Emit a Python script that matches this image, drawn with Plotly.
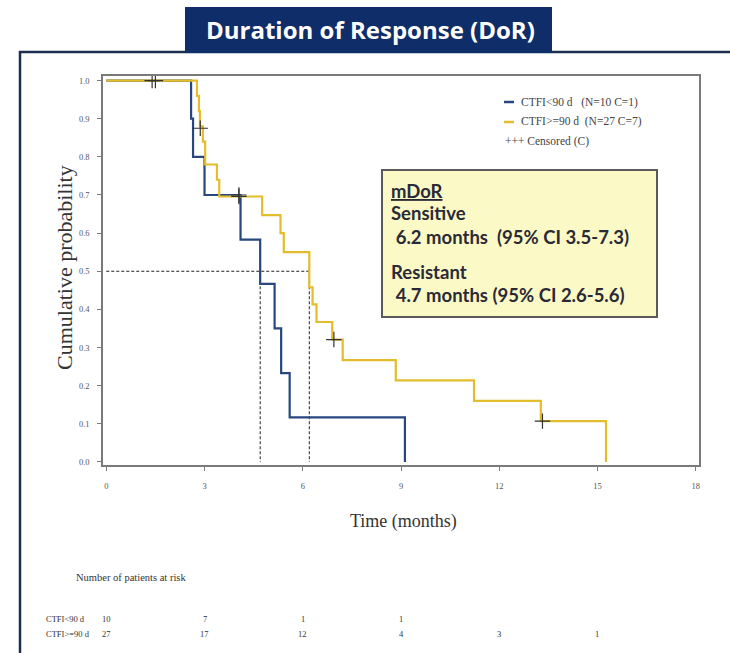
import plotly.graph_objects as go

# Kaplan-Meier step curves: step times (months) and cumulative probability after each step
ctfi_lt90_time = [0, 2.59, 2.65, 3.0, 4.1, 4.7, 5.14, 5.34, 5.6, 9.12]
ctfi_lt90_surv = [1.0, 0.9, 0.8, 0.7, 0.583, 0.467, 0.35, 0.233, 0.117, 0.0]
ctfi_lt90_cens_time = [4.05]
ctfi_lt90_cens_surv = [0.7]

ctfi_ge90_time = [0, 2.77, 2.83, 2.86, 2.95, 3.02, 3.38, 3.45, 4.76, 5.32, 5.42,
                  6.2, 6.3, 6.42, 6.9, 7.22, 8.84, 11.23, 13.27, 15.26]
ctfi_ge90_surv = [1.0, 0.96, 0.92, 0.88, 0.84, 0.78, 0.74, 0.696, 0.647, 0.6, 0.55,
                  0.458, 0.413, 0.367, 0.321, 0.267, 0.214, 0.16, 0.107, 0.0]
ctfi_ge90_cens_time = [1.4, 1.5, 2.87, 4.05, 6.95, 13.32]
ctfi_ge90_cens_surv = [1.0, 1.0, 0.875, 0.696, 0.321, 0.107]

# Number at risk
risk_times = [0, 3, 6, 9, 12, 15]
risk_lt90 = [10, 7, 1, 1, None, None]
risk_ge90 = [27, 17, 12, 4, 3, 1]

# Median duration of response
median_sensitive = 6.2
ci_sensitive = (3.5, 7.3)
median_resistant = 4.7
ci_resistant = (2.6, 5.6)

x_ticks = [0, 3, 6, 9, 12, 15, 18]
y_ticks = [i / 10 for i in range(11)]

BLUE = "#27477e"
GOLD = "#e3bd2b"
NAVY = "#0f2d69"
SERIF = "Liberation Serif"
SANS = "Lato"

W, H = 730, 653
L, R, T, B = 103, 31, 76, 188


def px(x):
    return (x - L) / (W - L - R)


def py(y):
    return (H - B - y) / (H - T - B)


def label(x, y, text, font, xanchor="center", **kw):
    return dict(xref="paper", yref="paper", x=px(x), y=py(y), text=text, showarrow=False,
                xanchor=xanchor, yanchor="middle", font=font, **kw)


fig = go.Figure()

# median reference lines
fig.add_trace(go.Scatter(x=[0, median_sensitive], y=[0.5, 0.5], mode="lines",
                         line=dict(color="#222", width=1, dash="3px,2px"), hoverinfo="skip"))
for m in (median_resistant, median_sensitive):
    fig.add_trace(go.Scatter(x=[m, m], y=[0.5, 0], mode="lines",
                             line=dict(color="#222", width=1, dash="3px,2px"), hoverinfo="skip"))

fig.add_trace(go.Scatter(x=ctfi_lt90_time, y=ctfi_lt90_surv, mode="lines", line_shape="hv",
                         line=dict(color=BLUE, width=2.2), name="CTFI<90 d"))
fig.add_trace(go.Scatter(x=ctfi_ge90_time, y=ctfi_ge90_surv, mode="lines", line_shape="hv",
                         line=dict(color=GOLD, width=2.2), name="CTFI>=90 d"))

cens_marker = dict(symbol="cross-thin", size=11, line=dict(color="#333", width=1.2))
fig.add_trace(go.Scatter(x=ctfi_lt90_cens_time, y=ctfi_lt90_cens_surv, mode="markers",
                         marker=cens_marker, name="Censored"))
fig.add_trace(go.Scatter(x=ctfi_ge90_cens_time, y=ctfi_ge90_cens_surv, mode="markers",
                         marker=cens_marker, name="Censored"))

ann = []
shapes = []

# outer slide frame
shapes.append(dict(type="rect", xref="paper", yref="paper",
                   x0=px(20), x1=px(760), y0=py(680), y1=py(52),
                   line=dict(color="#1d2f4f", width=2.5), fillcolor="rgba(0,0,0,0)", layer="below"))
# title banner
shapes.append(dict(type="rect", xref="paper", yref="paper",
                   x0=px(185), x1=px(552), y0=py(53), y1=py(7),
                   line=dict(width=0), fillcolor=NAVY))
ann.append(label(370, 30, "<b>Duration of Response (DoR)</b>",
                 dict(family="Open Sans", size=24, color="white")))

# legend
shapes.append(dict(type="line", xref="paper", yref="paper", x0=px(504), x1=px(514), y0=py(102), y1=py(102),
                   line=dict(color=BLUE, width=2.5)))
shapes.append(dict(type="line", xref="paper", yref="paper", x0=px(504), x1=px(514), y0=py(122), y1=py(122),
                   line=dict(color=GOLD, width=2.5)))
leg_font = dict(family=SERIF, size=11.5, color="#444")
ann.append(label(519, 102, "CTFI&lt;90 d&nbsp;&nbsp;&nbsp;(N=10 C=1)", leg_font, "left"))
ann.append(label(519, 122, "CTFI&gt;=90 d&nbsp;&nbsp;(N=27 C=7)", leg_font, "left"))
ann.append(label(503, 141, "+++ Censored (C)", leg_font, "left"))

# median summary box
shapes.append(dict(type="rect", xref="paper", yref="paper",
                   x0=px(382), x1=px(657), y0=py(317), y1=py(170),
                   line=dict(color="#5a5a5a", width=2), fillcolor="#fbf9c6"))
box_font = dict(family=SANS, size=18.5, color="#2a2a36")
box_lines = [
    (191, "<b><u>mDoR</u></b>"),
    (213, "<b>Sensitive</b>"),
    (237, f"&nbsp;<b>{median_sensitive} months&nbsp;&nbsp;(95% CI {ci_sensitive[0]}-{ci_sensitive[1]})</b>"),
    (272, "<b>Resistant</b>"),
    (295, f"&nbsp;<b>{median_resistant} months (95% CI {ci_resistant[0]}-{ci_resistant[1]})</b>"),
]
for yy, txt in box_lines:
    ann.append(label(389, yy, txt, box_font, "left"))

# axis titles
ann.append(label(403, 521, "Time (months)", dict(family=SERIF, size=18, color="#333")))
ann.append(label(64, 268, "Cumulative probability", dict(family=SERIF, size=22, color="#333"),
                 textangle=-90))

# number at risk table
risk_font = dict(family=SERIF, size=8.5, color="#333")
ann.append(label(74, 577, "Number of patients at risk", dict(family=SERIF, size=10.5, color="#333"), "left"))
for name, row, yy in (("CTFI&lt;90 d", risk_lt90, 619), ("CTFI&gt;=90 d", risk_ge90, 634)):
    ann.append(label(44, yy, name, risk_font, "left"))
    for t, n in zip(risk_times, row):
        if n is not None:
            ann.append(dict(xref="x", yref="paper", x=t, y=py(yy), text=str(n), showarrow=False,
                            xanchor="center", yanchor="middle", font=risk_font))

axis_common = dict(showline=True, linecolor="#7a7a7a", linewidth=1.5, mirror=True,
                   ticks="outside", ticklen=4, tickcolor="#7a7a7a", showgrid=False, zeroline=False,
                   tickfont=dict(family=SERIF, size=8.5, color="#555"))
fig.update_layout(
    width=W, height=H,
    margin=dict(l=L, r=R, t=T, b=B),
    paper_bgcolor="white", plot_bgcolor="white",
    showlegend=False,
    xaxis=dict(range=[-0.1, 18.1], tickvals=x_ticks, ticktext=[str(v) for v in x_ticks],
               ticklabelstandoff=8, **axis_common),
    yaxis=dict(range=[-0.008, 1.012], tickvals=y_ticks, ticktext=[f"{v:.1f}" for v in y_ticks],
               ticklabelstandoff=6, **axis_common),
    annotations=ann,
    shapes=shapes,
)

fig.write_html("out.html")
